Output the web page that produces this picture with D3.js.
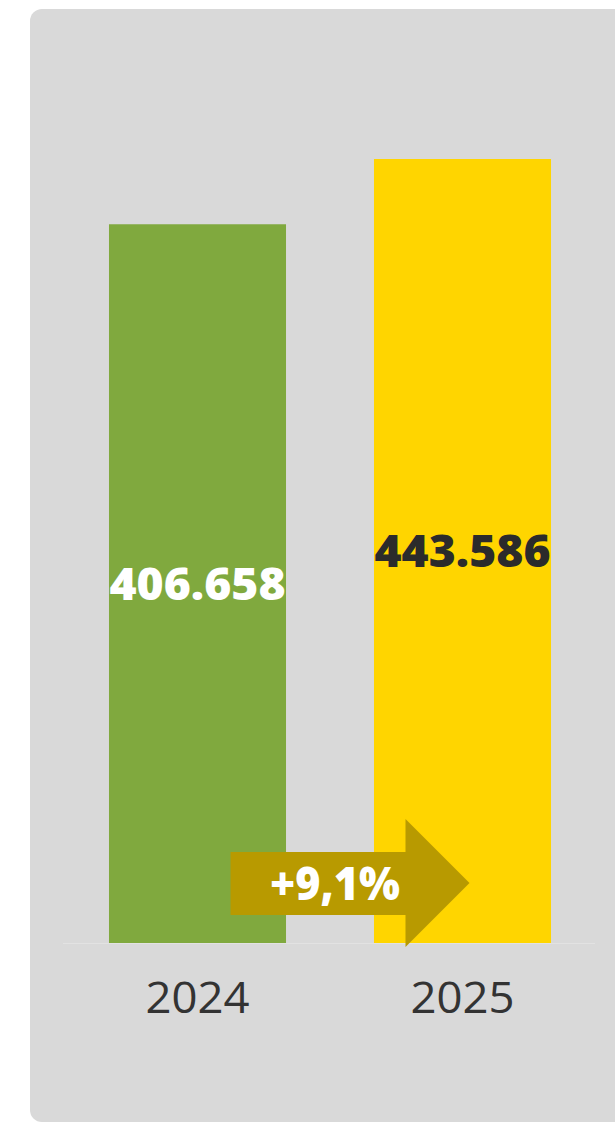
<!DOCTYPE html>
<html>
<head>
<meta charset="utf-8">
<script src="https://cdn.jsdelivr.net/npm/d3@7"></script>
<style>
html,body{margin:0;padding:0;background:#fff;}
svg{display:block;}
</style>
</head>
<body>
<script>
const categories = ["2024", "2025"];
const values = [406658, 443586];
const valueLabels = ["406.658", "443.586"];
const barColors = ["#80a93e", "#ffd500"];
const labelColors = ["#ffffff", "#2b2b2b"];
const changeLabel = "+9,1%";

const W = 615, H = 1122;
const svg = d3.select("body").append("svg").attr("width", W).attr("height", H);

// panel background
svg.append("rect").attr("x", 30).attr("y", 9).attr("width", 620).attr("height", 1113)
  .attr("rx", 12).attr("ry", 12).attr("fill", "#d9d9d9");

const x = d3.scaleBand().domain(categories).range([65, 595]).paddingInner(0.332).paddingOuter(0.166);
const y = d3.scaleLinear().domain([0, 443586]).range([943, 159]);

// baseline
svg.append("line").attr("x1", 63).attr("x2", 595).attr("y1", y(0)+0.5).attr("y2", y(0)+0.5)
  .attr("stroke", "#e2e2e2").attr("stroke-width", 1.2);

// bars
svg.selectAll("rect.bar").data(categories).join("rect").attr("class", "bar")
  .attr("x", d => x(d)).attr("width", x.bandwidth())
  .attr("y", (d, i) => y(values[i])).attr("height", (d, i) => y(0) - y(values[i]))
  .attr("fill", (d, i) => barColors[i]);

const font = "'Open Sans', 'Noto Sans', sans-serif";

// value labels
svg.selectAll("text.val").data(categories).join("text").attr("class", "val")
  .attr("x", d => x(d) + x.bandwidth()/2)
  .attr("y", (d, i) => (y(values[i]) + y(0))/2 + 16)
  .attr("text-anchor", "middle")
  .attr("font-family", font).attr("font-weight", 800).attr("font-size", 44)
  .attr("fill", (d, i) => labelColors[i])
  .attr("textLength", 176).attr("lengthAdjust", "spacingAndGlyphs")
  .text((d, i) => valueLabels[i]);

// arrow
const c1 = x(categories[0]) + x.bandwidth()/2;
const c2 = x(categories[1]) + x.bandwidth()/2;
const ax0 = c1 + 33, ahb = c2 - 57, atip = c2 + 7;
const ay0 = 852, ay1 = 915, ahTop = 819, ahBot = 947, amid = 883;
svg.append("path")
  .attr("d", `M${ax0},${ay0}L${ahb},${ay0}L${ahb},${ahTop}L${atip},${amid}L${ahb},${ahBot}L${ahb},${ay1}L${ax0},${ay1}Z`)
  .attr("fill", "#b89a00");
svg.append("text").attr("x", 335).attr("y", 900)
  .attr("text-anchor", "middle")
  .attr("font-family", font).attr("font-weight", 800).attr("font-size", 46)
  .attr("fill", "#ffffff")
  .attr("textLength", 130).attr("lengthAdjust", "spacingAndGlyphs")
  .text(changeLabel);

// category labels
svg.selectAll("text.cat").data(categories).join("text").attr("class", "cat")
  .attr("x", d => x(d) + x.bandwidth()/2)
  .attr("y", 1013)
  .attr("text-anchor", "middle")
  .attr("font-family", font).attr("font-weight", 400).attr("font-size", 43)
  .attr("fill", "#333333")
  .attr("textLength", 104).attr("lengthAdjust", "spacingAndGlyphs")
  .text(d => d);
</script>
</body>
</html>
